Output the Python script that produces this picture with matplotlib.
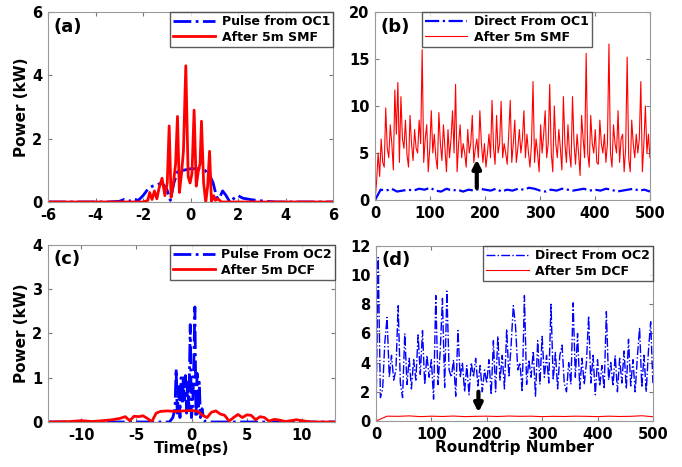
import numpy as np
import matplotlib
matplotlib.use("Agg")
import matplotlib.pyplot as plt

plt.rcParams['font.family'] = ['DejaVu Sans']
plt.rcParams['font.weight'] = 'bold'
plt.rcParams['axes.unicode_minus'] = False

# (a) pulse shapes, time in ps, power in kW
t_a_oc1 = [-6, -3.5, -3.0, -2.8, -2.6, -2.4, -2.2, -2.0, -1.8, -1.6, -1.4, -1.2, -1.0, -0.85, -0.7,
           -0.55, -0.3, 0, 0.3, 0.6, 0.8, 0.95, 1.1, 1.2, 1.35, 1.5, 1.65, 1.8, 2.0, 2.2,
           2.5, 2.8, 3.2, 3.6, 6]
p_a_oc1 = [0, 0, 0.02, 0.08, 0.02, 0.1, 0.05, 0.2, 0.4, 0.5, 0.55, 0.6, 0.4, 0.05, 0.6,
           0.95, 1.0, 1.05, 1.05, 1.0, 0.85, 0.6, 0.15, 0.1, 0.35, 0.2, 0.0, 0.1, 0.2, 0.12,
           0.08, 0.05, 0.02, 0, 0]
t_a_smf = [-6, -2.0, -1.8, -1.72, -1.62, -1.52, -1.42, -1.32, -1.2, -1.08, -0.98, -0.9, -0.82,
           -0.72, -0.63, -0.55, -0.47, -0.38, -0.3, -0.2, -0.1, -0.02, 0.06, 0.15, 0.24, 0.33,
           0.4, 0.46, 0.55, 0.64, 0.72, 0.8, 0.88, 0.97, 1.05, 1.15, 1.3, 6]
p_a_smf = [0, 0, 0.05, 0.3, 0.08, 0.35, 0.1, 0.45, 0.75, 0.2, 0.6, 2.4, 0.15,
           0.6, 1.2, 2.7, 0.3, 0.9, 1.6, 4.3, 0.8, 0.6, 0.9, 2.9, 0.5, 1.0,
           1.2, 2.55, 0.6, 0.0, 0.5, 1.6, 0.0, 0.2, 0.05, 0.1, 0, 0]

# (b) peak power vs roundtrip
b_oc1 = [0, 1.1, 1.0, 1.2, 0.9, 1.0, 1.1, 1.0, 1.2, 1.1, 1.3, 1.0, 0.9, 1.2, 1.0, 1.1, 0.9,
         1.1, 1.0, 1.2, 1.1, 1.0, 1.2, 0.9, 1.1, 1.0, 1.2, 1.1, 1.3, 1.2, 1.0, 0.9, 1.1, 1.0,
         1.2, 1.1, 1.0, 1.1, 1.2, 1.0, 1.1, 1.0, 1.2, 1.1, 0.9, 1.0, 1.1, 1.2, 1.0, 1.1, 0.9]
b_smf = [0, 2.0, 5.0, 2.5, 6.5, 4.0, 3.5, 9.8, 5.5, 4.5, 8.0, 6.0, 3.2, 11.7, 7.0, 12.5, 4.0,
         11.0, 6.5, 5.5, 8.5, 4.8, 3.5, 9.0, 6.0, 4.2, 7.5, 5.5, 5.0, 8.5, 6.0, 16.0, 4.0,
         6.5, 8.0, 3.0, 5.5, 9.5, 5.0, 7.0, 4.5, 3.3, 9.3, 6.0, 4.2, 8.0, 5.5, 3.0, 7.5,
         4.5, 6.5, 9.5, 5.0, 12.3, 3.0, 6.0, 8.0, 4.5, 6.0, 5.0, 3.5, 7.5, 5.0, 6.0, 9.0,
         4.0, 5.5, 6.5, 4.5, 9.5, 6.0, 4.0, 6.0, 3.5, 5.0, 7.0, 4.5, 10.6, 5.5, 3.8, 9.0,
         5.0, 6.0, 10.5, 4.5, 6.0, 5.0, 3.8, 7.0, 10.6, 4.0, 6.0, 8.5, 4.0, 5.5, 7.5, 5.0,
         6.5, 9.5, 4.5, 7.0, 5.0, 3.5, 6.0, 12.6, 4.0, 6.5, 5.0, 3.0, 8.0, 5.0, 7.0, 9.5,
         4.5, 6.0, 12.3, 5.0, 3.0, 10.0, 6.0, 4.5, 7.5, 5.5, 3.2, 11.0, 6.0, 4.0, 8.0, 5.0,
         3.5, 11.0, 6.0, 3.8, 7.0, 5.0, 2.6, 9.0, 6.5, 4.5, 15.6, 5.0, 3.5, 9.0, 6.0, 5.0,
         7.5, 4.0, 3.8, 8.5, 6.0, 5.0, 7.0, 4.0, 6.0, 16.6, 5.0, 3.5, 8.0, 6.0, 5.0, 9.5,
         4.0, 6.5, 7.0, 3.0, 5.5, 15.2, 4.5, 3.0, 8.5, 6.0, 4.5, 7.0, 5.0, 6.5, 12.6, 3.0,
         6.0, 10.0, 5.0, 7.0, 4.5]

# (c) pulse shapes
t_c_oc2 = [-13, -2.0, -1.7, -1.5, -1.4, -1.3, -1.15, -1.05, -0.95, -0.85, -0.75, -0.65, -0.55,
           -0.45, -0.35, -0.25, -0.12, -0.02, 0.08, 0.18, 0.3, 0.4, 0.5, 0.6, 0.7, 0.8, 0.95,
           1.1, 1.3, 13]
p_c_oc2 = [0, 0, 0.1, 0.3, 1.2, 0.2, 0.8, 0.1, 1.0, 0.4, 1.0, 0.5, 1.05,
           0.2, 0.9, 0.3, 2.2, 0.1, 0.3, 1.0, 2.6, 0.1, 1.1, 0.2, 0.9, 0.1, 0.3,
           0.05, 0, 0]
t_c_dcf = [-13, -11, -10, -9, -8, -7.2, -6.5, -6.0, -5.6, -5.2, -4.8, -4.4, -4.0, -3.6, -3.2,
           -2.8, -2.2, -1.5, -0.8, 0, 0.6, 1.0, 1.4, 1.8, 2.2, 2.6, 3.0, 3.4, 3.8, 4.2, 4.6,
           5.0, 5.4, 5.8, 6.2, 6.6, 7.0, 7.5, 8.0, 8.5, 9.0, 9.5, 10.0, 10.5, 11, 13]
p_c_dcf = [0, 0.01, 0.03, 0.01, 0.03, 0.05, 0.08, 0.12, 0.03, 0.13, 0.12, 0.14, 0.08, 0.01, 0.2,
           0.24, 0.25, 0.24, 0.25, 0.26, 0.24, 0.15, 0.1, 0.22, 0.25, 0.18, 0.15, 0.02, 0.1, 0.17,
           0.1, 0.16, 0.15, 0.05, 0.12, 0.1, 0.02, 0.06, 0.04, 0.01, 0.03, 0.05, 0.03, 0.01, 0, 0]

# (d) peak power vs roundtrip
d_oc2 = [0.3, 11.2, 1.6, 2.2, 5.4, 7.1, 3.0, 4.5, 2.8, 3.5, 7.9, 2.6, 1.6, 6.0, 2.5, 4.3,
         2.2, 4.2, 2.8, 5.9, 3.2, 6.2, 2.5, 4.5, 3.0, 4.2, 1.5, 8.6, 2.5, 4.8, 8.4, 2.3,
         8.9, 3.5, 3.0, 4.2, 1.7, 6.2, 3.0, 4.0, 2.0, 3.8, 1.8, 4.0, 3.0, 4.3, 2.4, 3.8,
         2.0, 3.5, 2.6, 4.2, 1.8, 5.5, 2.0, 5.8, 2.8, 4.5, 2.2, 6.3, 3.0, 5.2, 7.9, 6.5,
         3.5, 4.0, 2.0, 8.6, 2.5, 4.2, 3.0, 4.8, 1.7, 5.5, 2.5, 5.8, 3.0, 4.5, 2.6, 8.0,
         2.8, 4.7, 2.2, 4.5, 5.2, 2.6, 2.0, 4.0, 2.5, 8.1, 3.0, 6.0, 2.2, 4.3, 2.5, 4.0,
         7.2, 2.6, 4.5, 1.8, 4.2, 2.4, 3.8, 2.2, 7.5, 2.8, 4.0, 2.4, 4.5, 2.0, 4.3, 2.6,
         4.8, 2.2, 5.6, 2.4, 4.2, 2.0, 4.4, 6.4, 2.3, 4.5, 2.0, 4.8, 6.8, 2.6]
d_dcf = [0, 0.33, 0.32, 0.35, 0.30, 0.33, 0.31, 0.34, 0.30, 0.32, 0.33, 0.31, 0.34,
         0.32, 0.33, 0.30, 0.32, 0.31, 0.33, 0.32, 0.30, 0.33, 0.31, 0.32, 0.36, 0.29]

n_round = 500

fig = plt.figure(figsize=(6.82, 4.67), dpi=100)
ax_a = fig.add_axes([0.0704, 0.5675, 0.418, 0.407])
ax_b = fig.add_axes([0.550, 0.5717, 0.403, 0.4026])
ax_c = fig.add_axes([0.0704, 0.0964, 0.421, 0.379])
ax_d = fig.add_axes([0.5513, 0.0985, 0.406, 0.375])

ax_a.plot(t_a_oc1, p_a_oc1, '-.', color='blue', lw=2, label='Pulse from OC1')
ax_a.plot(t_a_smf, p_a_smf, '-', color='red', lw=2, label='After 5m SMF')
ax_a.set_xlim(-6, 6)
ax_a.set_ylim(0, 6)
ax_a.set_xticks(range(-6, 7, 2))
ax_a.set_yticks([0, 2, 4, 6])
ax_a.set_ylabel('Power (kW)', fontsize=11, fontweight='bold', labelpad=2)

rb = lambda v: np.linspace(0, n_round, len(v))
ax_b.plot(rb(b_oc1), b_oc1, '-.', color='blue', lw=1.6, label='Direct From OC1')
ax_b.plot(rb(b_smf), b_smf, '-', color='red', lw=0.8, label='After 5m SMF')
ax_b.set_xlim(0, 500)
ax_b.set_ylim(0, 20)
ax_b.set_yticks([0, 5, 10, 15, 20])
ax_b.annotate('', xy=(185, 4.6), xytext=(185, 1.0),
              arrowprops=dict(arrowstyle='-|>', color='black', lw=3, mutation_scale=12))

ax_c.plot(t_c_oc2, p_c_oc2, '-.', color='blue', lw=2, label='Pulse From OC2')
ax_c.plot(t_c_dcf, p_c_dcf, '-', color='red', lw=2, label='After 5m DCF')
ax_c.set_xlim(-13, 13)
ax_c.set_ylim(0, 4)
ax_c.set_xticks([-10, -5, 0, 5, 10])
ax_c.set_yticks([0, 1, 2, 3, 4])
ax_c.set_ylabel('Power (kW)', fontsize=11, fontweight='bold', labelpad=2)
ax_c.set_xlabel('Time(ps)', fontsize=11, fontweight='bold', labelpad=-1)

ax_d.plot(rb(d_oc2), d_oc2, '-.', color='blue', lw=1.0, label='Direct From OC2')
ax_d.plot(rb(d_dcf), d_dcf, '-', color='red', lw=0.8, label='After 5m DCF')
ax_d.set_xlim(0, 500)
ax_d.set_ylim(0, 12)
ax_d.set_yticks(range(0, 13, 2))
ax_d.set_xlabel('Roundtrip Number', fontsize=11, fontweight='bold', labelpad=-1)
ax_d.annotate('', xy=(185, 0.4), xytext=(185, 2.2),
              arrowprops=dict(arrowstyle='-|>', color='black', lw=3, mutation_scale=12))

for ax, lab in zip([ax_a, ax_b, ax_c, ax_d], ['(a)', '(b)', '(c)', '(d)']):
    ax.text(0.02, 0.97, lab, transform=ax.transAxes, fontsize=13, fontweight='bold',
            va='top', ha='left')
    ax.tick_params(direction='in', top=True, right=True, labelsize=10.5, color='#777777',
                   length=3, pad=4)
    for lbl in ax.get_xticklabels() + ax.get_yticklabels():
        lbl.set_fontweight('bold')
    for s in ax.spines.values():
        s.set_color('#999999')
        s.set_linewidth(0.8)

leg_kw = dict(frameon=True, fancybox=False, edgecolor='#333333',
              handlelength=3.4, borderpad=0.25, labelspacing=0.2, handletextpad=0.5,
              borderaxespad=0.0, prop={'weight': 'bold', 'size': 9})
ax_a.legend(loc='upper right', bbox_to_anchor=(1.0, 1.0), **leg_kw)
ax_b.legend(loc='upper left', bbox_to_anchor=(0.17, 1.0), **leg_kw)
ax_c.legend(loc='upper right', bbox_to_anchor=(1.0, 1.0), **leg_kw)
ax_d.legend(loc='upper right', bbox_to_anchor=(1.0, 1.0), **leg_kw)

fig.savefig('out.png', dpi=100)
